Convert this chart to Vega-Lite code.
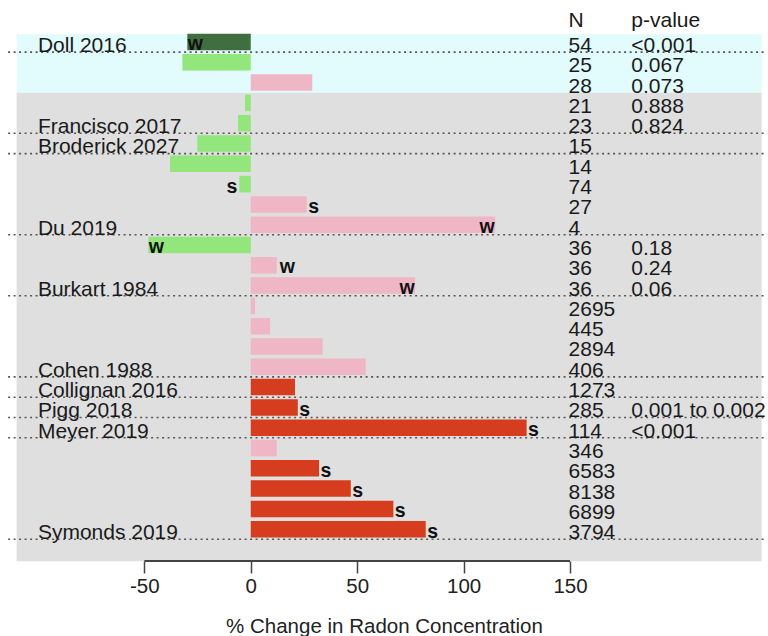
{
  "$schema": "https://vega.github.io/schema/vega-lite/v6.json",
  "width": 768,
  "height": 561,
  "autosize": {"type": "none"},
  "padding": {"left": 0, "top": 0, "right": 0, "bottom": 75},
  "background": "white",
  "config": {"view": {"stroke": null}, "font": "Liberation Sans", "text": {"font": "Liberation Sans"}},
  "datasets": {
    "studies": [
      {"row": 1, "study": "Doll 2016", "change": -29.8, "group": "dark", "flag": "w", "n": "54", "p": "<0.001"},
      {"row": 2, "change": -32.1, "group": "light", "n": "25", "p": "0.067"},
      {"row": 3, "change": 28.9, "group": "pink", "n": "28", "p": "0.073"},
      {"row": 4, "change": -2.7, "group": "light", "n": "21", "p": "0.888"},
      {"row": 5, "study": "Francisco 2017", "change": -6.0, "group": "light", "n": "23", "p": "0.824"},
      {"row": 6, "study": "Broderick 2027", "change": -25.1, "group": "light", "n": "15"},
      {"row": 7, "change": -37.9, "group": "light", "n": "14"},
      {"row": 8, "change": -5.4, "group": "light", "flag": "s", "n": "74"},
      {"row": 9, "change": 26.3, "group": "pink", "flag": "s", "n": "27"},
      {"row": 10, "study": "Du 2019", "change": 114.8, "group": "pink", "flag": "w", "n": "4"},
      {"row": 11, "change": -48.1, "group": "light", "flag": "w", "n": "36", "p": "0.18"},
      {"row": 12, "change": 12.2, "group": "pink", "flag": "w", "n": "36", "p": "0.24"},
      {"row": 13, "study": "Burkart 1984", "change": 77.2, "group": "pink", "flag": "w", "n": "36", "p": "0.06"},
      {"row": 14, "change": 2.0, "group": "pink", "n": "2695"},
      {"row": 15, "change": 9.1, "group": "pink", "n": "445"},
      {"row": 16, "change": 33.8, "group": "pink", "n": "2894"},
      {"row": 17, "study": "Cohen 1988", "change": 54.0, "group": "pink", "n": "406"},
      {"row": 18, "study": "Collignan 2016", "change": 20.8, "group": "red", "n": "1273"},
      {"row": 19, "study": "Pigg 2018", "change": 22.1, "group": "red", "flag": "s", "n": "285", "p": "0.001 to 0.002"},
      {"row": 20, "study": "Meyer 2019", "change": 129.6, "group": "red", "flag": "s", "n": "114", "p": "<0.001"},
      {"row": 21, "change": 12.2, "group": "pink", "n": "346"},
      {"row": 22, "change": 32.1, "group": "red", "flag": "s", "n": "6583"},
      {"row": 23, "change": 47.0, "group": "red", "flag": "s", "n": "8138"},
      {"row": 24, "change": 67.0, "group": "red", "flag": "s", "n": "6899"},
      {"row": 25, "study": "Symonds 2019", "change": 82.2, "group": "red", "flag": "s", "n": "3794"}
    ],
    "panels": [
      {"panel": "top", "first": 1, "last": 3},
      {"panel": "rest", "first": 4, "last": 25}
    ]
  },
  "layer": [
    {
      "data": {"name": "panels"},
      "transform": [{"filter": "datum.panel == 'top'"}],
      "mark": {"type": "rect", "color": "#e2fbfc", "yOffset": -7.7, "y2Offset": 10.1},
      "encoding": {
        "x": {"datum": -110, "type": "quantitative", "scale": {"domain": [-117.8, 243], "nice": false, "zero": false, "padding": 0}},
        "x2": {"datum": 240},
        "y": {"field": "first", "type": "quantitative", "scale": {"domain": [-1.069, 26.567], "reverse": true, "nice": false, "zero": false, "padding": 0}, "axis": null},
        "y2": {"field": "last"}
      }
    },
    {
      "data": {"name": "panels"},
      "transform": [{"filter": "datum.panel == 'rest'"}],
      "mark": {"type": "rect", "color": "#dfdfdf", "yOffset": -10.2, "y2Offset": 32},
      "encoding": {
        "x": {"datum": -110, "type": "quantitative", "scale": {"domain": [-117.8, 243], "nice": false, "zero": false, "padding": 0}},
        "x2": {"datum": 240},
        "y": {"field": "first", "type": "quantitative", "scale": {"domain": [-1.069, 26.567], "reverse": true, "nice": false, "zero": false, "padding": 0}, "axis": null},
        "y2": {"field": "last"}
      }
    },
    {
      "data": {"name": "studies"},
      "mark": {"type": "bar", "orient": "horizontal", "size": 16.5},
      "encoding": {
        "y": {"field": "row", "type": "quantitative", "scale": {"domain": [-1.069, 26.567], "reverse": true, "nice": false, "zero": false, "padding": 0}, "axis": null},
        "x": {
          "field": "change", "type": "quantitative",
          "scale": {"domain": [-117.8, 243], "nice": false, "zero": false, "padding": 0},
          "title": "% Change in Radon Concentration",
          "axis": {
            "values": [-50, 0, 50, 100, 150], "domain": false, "grid": false,
            "labelExpr": "toString(datum.value)",
            "tickSize": 12, "tickColor": "#444", "tickWidth": 1.5,
            "labelFont": "Liberation Sans", "labelFontSize": 20.5, "labelColor": "#222", "labelPadding": 3,
            "titleFont": "Liberation Sans", "titleFontSize": 20.5, "titleFontWeight": "normal", "titleColor": "#222", "titlePadding": 20
          }
        },
        "x2": {"datum": 0},
        "color": {
          "field": "group", "type": "nominal",
          "scale": {"domain": ["dark", "light", "pink", "red"], "range": ["#3f6f3f", "#93e67b", "#efb6c5", "#d53d1e"]},
          "legend": null
        }
      }
    },
    {
      "data": {"values": [{}]},
      "mark": {"type": "rule", "color": "#444", "strokeWidth": 2},
      "encoding": {
        "x": {"datum": -50, "type": "quantitative", "scale": {"domain": [-117.8, 243], "nice": false, "zero": false, "padding": 0}},
        "x2": {"datum": 150},
        "y": {"datum": 26.567, "type": "quantitative", "scale": {"domain": [-1.069, 26.567], "reverse": true, "nice": false, "zero": false, "padding": 0}}
      }
    },
    {
      "data": {"name": "studies"},
      "transform": [{"filter": "datum.study"}],
      "mark": {"type": "rule", "color": "#555", "strokeWidth": 1.6, "strokeDash": [2, 3.5], "yOffset": 10.1},
      "encoding": {
        "x": {"datum": -114, "type": "quantitative", "scale": {"domain": [-117.8, 243], "nice": false, "zero": false, "padding": 0}},
        "x2": {"datum": 241},
        "y": {"field": "row", "type": "quantitative", "scale": {"domain": [-1.069, 26.567], "reverse": true, "nice": false, "zero": false, "padding": 0}}
      }
    },
    {
      "data": {"name": "studies"},
      "transform": [{"filter": "datum.study"}],
      "mark": {"type": "text", "align": "left", "baseline": "alphabetic", "dy": 10, "fontSize": 21, "color": "#1a1a1a"},
      "encoding": {
        "x": {"datum": -100, "type": "quantitative", "scale": {"domain": [-117.8, 243], "nice": false, "zero": false, "padding": 0}},
        "y": {"field": "row", "type": "quantitative", "scale": {"domain": [-1.069, 26.567], "reverse": true, "nice": false, "zero": false, "padding": 0}},
        "text": {"field": "study", "type": "nominal"}
      }
    },
    {
      "data": {"name": "studies"},
      "mark": {"type": "text", "align": "left", "baseline": "alphabetic", "dy": 10, "fontSize": 21, "color": "#1a1a1a"},
      "encoding": {
        "x": {"datum": 149.3, "type": "quantitative", "scale": {"domain": [-117.8, 243], "nice": false, "zero": false, "padding": 0}},
        "y": {"field": "row", "type": "quantitative", "scale": {"domain": [-1.069, 26.567], "reverse": true, "nice": false, "zero": false, "padding": 0}},
        "text": {"field": "n", "type": "nominal"}
      }
    },
    {
      "data": {"name": "studies"},
      "transform": [{"filter": "datum.p"}],
      "mark": {"type": "text", "align": "left", "baseline": "alphabetic", "dy": 10, "fontSize": 21, "color": "#1a1a1a"},
      "encoding": {
        "x": {"datum": 178.8, "type": "quantitative", "scale": {"domain": [-117.8, 243], "nice": false, "zero": false, "padding": 0}},
        "y": {"field": "row", "type": "quantitative", "scale": {"domain": [-1.069, 26.567], "reverse": true, "nice": false, "zero": false, "padding": 0}},
        "text": {"field": "p", "type": "nominal"}
      }
    },
    {
      "data": {"values": [{}]},
      "mark": {"type": "text", "text": "N", "align": "left", "baseline": "alphabetic", "dy": 5.3, "fontSize": 21, "color": "#1a1a1a"},
      "encoding": {
        "x": {"datum": 149.3, "type": "quantitative", "scale": {"domain": [-117.8, 243], "nice": false, "zero": false, "padding": 0}},
        "y": {"datum": 0, "type": "quantitative", "scale": {"domain": [-1.069, 26.567], "reverse": true, "nice": false, "zero": false, "padding": 0}}
      }
    },
    {
      "data": {"values": [{}]},
      "mark": {"type": "text", "text": "p-value", "align": "left", "baseline": "alphabetic", "dy": 5.3, "fontSize": 21, "color": "#1a1a1a"},
      "encoding": {
        "x": {"datum": 178.8, "type": "quantitative", "scale": {"domain": [-117.8, 243], "nice": false, "zero": false, "padding": 0}},
        "y": {"datum": 0, "type": "quantitative", "scale": {"domain": [-1.069, 26.567], "reverse": true, "nice": false, "zero": false, "padding": 0}}
      }
    },
    {
      "data": {"name": "studies"},
      "transform": [{"filter": "datum.flag == 'w' && datum.change > 15"}],
      "mark": {"type": "text", "align": "right", "baseline": "alphabetic", "dy": 8, "dx": -0.5, "fontSize": 19.5, "fontWeight": "bold", "color": "#111"},
      "encoding": {
        "x": {"field": "change", "type": "quantitative", "scale": {"domain": [-117.8, 243], "nice": false, "zero": false, "padding": 0}},
        "y": {"field": "row", "type": "quantitative", "scale": {"domain": [-1.069, 26.567], "reverse": true, "nice": false, "zero": false, "padding": 0}},
        "text": {"field": "flag", "type": "nominal"}
      }
    },
    {
      "data": {"name": "studies"},
      "transform": [{"filter": "datum.flag == 'w' && datum.change > 0 && datum.change <= 15"}],
      "mark": {"type": "text", "align": "left", "baseline": "alphabetic", "dy": 8, "dx": 3, "fontSize": 19.5, "fontWeight": "bold", "color": "#111"},
      "encoding": {
        "x": {"field": "change", "type": "quantitative", "scale": {"domain": [-117.8, 243], "nice": false, "zero": false, "padding": 0}},
        "y": {"field": "row", "type": "quantitative", "scale": {"domain": [-1.069, 26.567], "reverse": true, "nice": false, "zero": false, "padding": 0}},
        "text": {"field": "flag", "type": "nominal"}
      }
    },
    {
      "data": {"name": "studies"},
      "transform": [{"filter": "datum.flag == 'w' && datum.change < 0"}],
      "mark": {"type": "text", "align": "left", "baseline": "alphabetic", "dy": 8, "dx": 0.5, "fontSize": 19.5, "fontWeight": "bold", "color": "#111"},
      "encoding": {
        "x": {"field": "change", "type": "quantitative", "scale": {"domain": [-117.8, 243], "nice": false, "zero": false, "padding": 0}},
        "y": {"field": "row", "type": "quantitative", "scale": {"domain": [-1.069, 26.567], "reverse": true, "nice": false, "zero": false, "padding": 0}},
        "text": {"field": "flag", "type": "nominal"}
      }
    },
    {
      "data": {"name": "studies"},
      "transform": [{"filter": "datum.flag == 's' && datum.change > 0"}],
      "mark": {"type": "text", "align": "left", "baseline": "alphabetic", "dy": 8.5, "dx": 1.5, "fontSize": 19.5, "fontWeight": "bold", "color": "#111"},
      "encoding": {
        "x": {"field": "change", "type": "quantitative", "scale": {"domain": [-117.8, 243], "nice": false, "zero": false, "padding": 0}},
        "y": {"field": "row", "type": "quantitative", "scale": {"domain": [-1.069, 26.567], "reverse": true, "nice": false, "zero": false, "padding": 0}},
        "text": {"field": "flag", "type": "nominal"}
      }
    },
    {
      "data": {"name": "studies"},
      "transform": [{"filter": "datum.flag == 's' && datum.change < 0"}],
      "mark": {"type": "text", "align": "right", "baseline": "alphabetic", "dy": 8.5, "dx": -2, "fontSize": 19.5, "fontWeight": "bold", "color": "#111"},
      "encoding": {
        "x": {"field": "change", "type": "quantitative", "scale": {"domain": [-117.8, 243], "nice": false, "zero": false, "padding": 0}},
        "y": {"field": "row", "type": "quantitative", "scale": {"domain": [-1.069, 26.567], "reverse": true, "nice": false, "zero": false, "padding": 0}},
        "text": {"field": "flag", "type": "nominal"}
      }
    }
  ]
}
